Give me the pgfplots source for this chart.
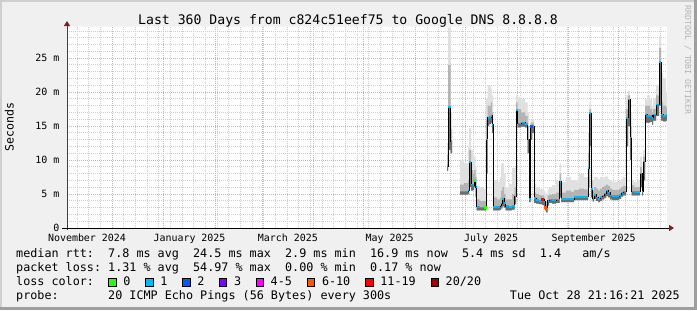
\documentclass[border=0pt]{standalone}
\usepackage{fontspec}
\setmainfont{DejaVu Sans Mono}
\usepackage{pgfplots}
\pgfplotsset{compat=1.18}
\usepackage{pgfplotstable}
\usepgfplotslibrary{fillbetween}
\usetikzlibrary{arrows.meta}

\definecolor{bgc}{HTML}{F0F0F0}
\definecolor{shadea}{HTML}{CFCFCF}
\definecolor{shadeb}{HTML}{9E9E9E}
\definecolor{mgrid}{HTML}{FF9C9C}
\definecolor{mingrid}{HTML}{CDCDCD}
\definecolor{axgray}{HTML}{404040}
\definecolor{arrowc}{HTML}{8B1A1A}
\definecolor{wmc}{HTML}{B4B4B4}
\definecolor{smokelight}{HTML}{E0E0E0}
\definecolor{smokemid}{HTML}{B4B4B4}
\definecolor{smokedark}{HTML}{6E6E6E}
\definecolor{lcA}{HTML}{26FF00}
\definecolor{lcB}{HTML}{00B8FF}
\definecolor{lcC}{HTML}{0059FF}
\definecolor{lcD}{HTML}{7E00FF}
\definecolor{lcE}{HTML}{FF00FF}
\definecolor{lcF}{HTML}{FF5500}
\definecolor{lcG}{HTML}{FF0000}
\definecolor{lcH}{HTML}{A10000}

\newcommand{\fs}[1]{\fontsize{#1}{#1}\selectfont}

% x = days since 2024-12-01, values in ms
\pgfplotstableread{
x lo med mid hi
201.0 8.4 9.1 10.8 12.5
201.6 11.5 17.8 24.0 29.5
203.2 11.0 12.8 14.5 17.0
204.0 11.0 12.8 14.5 17.0
}\smokeA

\pgfplotstableread{
x lo med mid hi
208.8 4.9 5.4 6.4 10.0
211.2 4.9 5.4 6.6 9.5
213.6 5.0 5.5 7.0 12.0
214.2 6.0 9.7 11.5 14.7
215.4 5.5 6.4 8.5 11.5
216.6 5.6 6.3 8.0 11.0
217.2 6.0 7.1 8.5 10.5
218.1 4.5 6.0 7.5 9.0
218.7 2.6 3.1 4.2 6.2
220.5 2.6 3.0 4.0 6.0
222.9 2.6 3.0 4.0 5.8
224.4 8.0 13.0 16.0 19.0
225.3 15.0 16.2 18.0 21.0
226.2 15.3 16.3 18.0 21.0
227.4 15.5 16.5 18.5 20.5
228.0 14.0 15.2 17.0 19.5
228.6 2.6 3.1 4.5 7.0
231.0 2.6 3.1 4.2 6.8
232.8 2.7 3.3 4.5 7.5
233.4 2.9 3.6 5.5 9.5
234.2 3.2 4.3 6.0 9.5
235.2 3.0 3.7 5.0 8.0
236.1 2.6 3.2 4.2 6.0
238.2 2.6 3.1 4.2 6.5
240.0 2.7 3.2 5.0 8.8
241.5 3.5 4.6 6.0 9.0
242.4 15.5 17.4 18.5 19.5
243.3 14.8 15.4 17.5 19.3
245.4 14.9 15.5 17.0 19.0
247.8 14.8 15.3 16.5 18.5
249.3 11.0 13.0 15.0 17.0
250.2 3.8 4.3 5.5 7.0
251.1 13.0 14.9 15.5 16.0
252.0 14.0 15.0 15.5 16.0
253.2 3.7 4.4 5.2 6.5
254.4 3.6 4.1 5.0 6.0
256.2 3.5 4.0 4.8 5.8
258.0 3.4 4.2 4.8 5.8
259.2 3.0 3.9 4.5 5.5
259.8 2.6 3.1 4.0 5.2
260.4 2.3 2.8 3.8 5.0
261.3 3.3 4.0 4.8 5.8
262.2 3.7 4.2 4.9 6.0
264.0 3.6 4.1 5.0 6.3
266.4 3.7 4.2 5.2 7.0
268.5 4.5 6.8 8.0 9.5
269.4 3.8 4.25 5.2 6.8
272.4 3.8 4.25 5.5 7.5
275.4 3.8 4.25 5.3 7.0
277.2 4.1 4.6 5.6 7.0
280.2 4.1 4.6 5.8 8.0
283.2 4.1 4.6 5.7 7.5
285.6 6.0 8.8 11.0 14.0
286.4 12.0 16.9 17.5 18.5
287.4 4.5 5.7 7.0 8.5
288.3 3.9 4.4 5.5 7.0
289.2 4.3 4.9 6.0 7.5
290.4 4.0 4.5 5.8 7.5
291.6 3.8 4.3 5.5 7.2
292.8 4.0 4.6 5.8 7.5
294.0 4.2 4.8 6.0 7.3
295.2 4.4 5.1 6.2 7.5
296.4 4.7 5.5 6.4 7.6
297.6 4.5 5.2 6.2 7.2
298.8 4.2 4.8 5.8 7.0
300.0 4.1 4.7 5.6 6.8
302.4 4.1 4.7 5.6 6.8
304.2 4.3 4.9 5.8 7.0
305.4 4.6 5.2 6.0 7.2
306.6 4.8 5.4 6.2 7.5
308.4 12.0 16.2 17.5 19.5
309.6 15.0 18.9 19.5 20.2
310.8 10.0 13.3 15.0 17.0
311.7 4.8 5.4 6.3 7.0
313.2 4.8 5.3 6.0 6.8
315.6 4.8 5.3 6.0 7.0
316.8 6.0 8.0 9.0 10.5
318.0 4.8 5.4 6.5 8.0
318.6 7.0 9.8 10.5 11.5
319.8 15.5 16.7 18.0 19.0
321.0 15.5 16.5 18.0 19.5
322.8 15.6 16.5 17.5 19.0
324.0 15.2 16.2 17.0 18.0
324.6 15.8 16.7 17.5 19.0
326.4 16.5 18.2 19.5 21.0
328.2 18.0 24.4 26.5 28.2
329.4 15.8 16.7 18.5 22.8
330.6 15.7 16.5 18.0 22.0
332.4 15.8 16.6 17.8 20.0
333.0 15.8 16.6 17.8 20.0
}\smokeB

\begin{document}
\frenchspacing
\begin{tikzpicture}
% background (frame round the canvas) and bevel
\begin{scope}[x=1bp,y=1bp]
\fill[bgc, even odd rule] (0,0) rectangle (697,310) (67,82) rectangle (667,283.3);
\fill[shadea] (0,0) rectangle (2,310);
\fill[shadea] (0,308) rectangle (697,310);
\fill[shadeb] (694,0) rectangle (697,310);
\fill[shadeb] (0,0) rectangle (697,3);
\end{scope}

\begin{axis}[
  at={(67bp,82bp)}, anchor=south west,
  scale only axis, width=600bp, height=201.3bp,
  xmin=-27, xmax=333, ymin=0, ymax=29.62,
  axis line style={draw=none},
  axis background/.style={fill=white},
  xtick={0,31,62,90,121,151,182,212,243,274,304},
  xticklabels={},
  minor xtick={-21,-14,...,329},
  ytick={0,5,...,25},
  yticklabels={0,5 m,10 m,15 m,20 m,25 m},
  minor ytick={1,...,29},
  grid=both,
  major grid style={draw=mgrid, dash pattern=on 1bp off 1bp, line width=0.8bp},
  minor grid style={draw=mingrid, dash pattern=on 1bp off 1bp, line width=0.8bp},
  major tick length=0pt, minor tick length=0pt,
  extra x ticks={-15,46.5,105.5,166.5,227.5,289},
  extra x tick labels={November 2024,January 2025,March 2025,May 2025,July 2025,September 2025},
  extra x tick style={grid=none},
  xticklabel style={font=\fs{10}, anchor=base, inner sep=0pt, yshift=-13bp},
  yticklabel style={font=\fs{10}, anchor=east, inner sep=0pt, xshift=-7.5bp},
]
% smoke, block A
\addplot[draw=none, const plot, name path=hiA] table[x=x,y=hi]{\smokeA};
\addplot[draw=none, const plot, name path=midA] table[x=x,y=mid]{\smokeA};
\addplot[draw=none, const plot, name path=medA] table[x=x,y=med]{\smokeA};
\addplot[draw=none, const plot, name path=loA] table[x=x,y=lo]{\smokeA};
\addplot[fill=smokelight, draw=none] fill between[of=hiA and loA];
\addplot[fill=smokemid, draw=none] fill between[of=midA and loA];
\addplot[fill=smokedark, draw=none] fill between[of=medA and loA];
% smoke, block B
\addplot[draw=none, const plot, name path=hiB] table[x=x,y=hi]{\smokeB};
\addplot[draw=none, const plot, name path=midB] table[x=x,y=mid]{\smokeB};
\addplot[draw=none, const plot, name path=medB] table[x=x,y=med]{\smokeB};
\addplot[draw=none, const plot, name path=loB] table[x=x,y=lo]{\smokeB};
\addplot[fill=smokelight, draw=none] fill between[of=hiB and loB];
\addplot[fill=smokemid, draw=none] fill between[of=midB and loB];
\addplot[fill=smokedark, draw=none] fill between[of=medB and loB];
% median
\addplot[black, line width=1bp, const plot] table[x=x,y=med]{\smokeA};
\addplot[black, line width=1bp, const plot] table[x=x,y=med]{\smokeB};
\addplot[lcB, line width=1.6bp, jump mark left] table[x=x,y=med]{\smokeA};
\addplot[lcB, line width=1.6bp, jump mark left] table[x=x,y=med]{\smokeB};
% points with other loss colours
\addplot[only marks, mark=square*, mark size=1bp, color=lcA] coordinates {(217.2,7.1) (223.8,3.0)};
\addplot[only marks, mark=square*, mark size=1bp, color=lcC] coordinates {(251.5,15.0)};
\addplot[only marks, mark=square*, mark size=1bp, color=lcG] coordinates {(258.4,4.25)};
\addplot[only marks, mark=square*, mark size=1bp, color=lcF] coordinates {(259.8,3.1)};
\end{axis}

\begin{scope}[x=1bp,y=1bp]
% axis lines with arrows
\draw[axgray, line width=1bp, -{Triangle[length=5bp,width=6bp,color=arrowc]}] (67,80) -- (67,289);
\draw[black, line width=1bp, -{Triangle[length=5bp,width=6bp,color=arrowc]}] (62,82) -- (674,82);

% title, unit, watermark
\node[anchor=base, font=\fs{13.2}, inner sep=0pt] at (348,286) {Last 360 Days from c824c51eef75 to Google DNS 8.8.8.8};
\node[rotate=90, anchor=base, font=\fs{11.6}, inner sep=0pt] at (13.5,183) {Seconds};
\node[rotate=-90, anchor=base, font=\fs{8.3}, inner sep=0pt, text=wmc] at (685,250) {RRDTOOL / TOBI OETIKER};

% legend
\begin{scope}[every node/.style={anchor=base west, font=\fs{11.8}, inner sep=0pt}]
\node at (16,52.5) {median rtt:~~7.8 ms avg~~24.5 ms max~~2.9 ms min~~16.9 ms now~~5.4 ms sd~~1.4~~~am/s};
\node at (16,38.5) {packet loss: 1.31 \% avg~~54.97 \% max~~0.00 \% min~~0.17 \% now};
\node at (16,24.5) {loss color:};
\node at (16,10.5) {probe:~~~~~~~20 ICMP Echo Pings (56 Bytes) every 300s};
\node[anchor=base east] at (680,10.5) {Tue Oct 28 21:16:21 2025};
\foreach \bx/\c/\t in {108.7/lcA/0, 145.7/lcB/1, 182.7/lcC/2, 219.3/lcD/3, 256/lcE/4-5, 307.3/lcF/6-10, 365.7/lcG/11-19, 431/lcH/{20/20}}{
  \filldraw[fill=\c, draw=black, line width=1bp] (\bx,24) rectangle ++(7.5,7.5);
  \node at (\bx+14.5,24.5) {\t};
}
\end{scope}
\pgfresetboundingbox
\path[use as bounding box] (0,0) rectangle (697,310);
\end{scope}
\end{tikzpicture}
\end{document}
